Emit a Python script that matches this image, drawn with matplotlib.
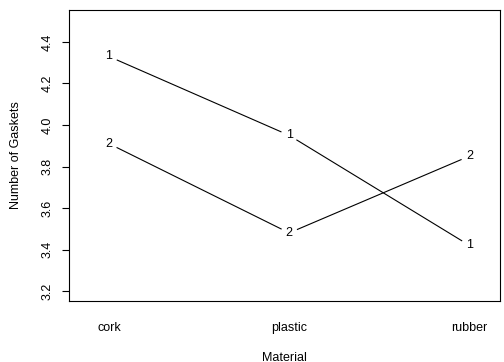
"""
Interaction plot: gaskets by material for two levels
"""

import matplotlib
matplotlib.use('Agg')
import matplotlib.pyplot as plt
import numpy as np

materials = ['cork', 'plastic', 'rubber']
level_labels = ['1', '2']
level1 = [4.33, 3.95, 3.42]
level2 = [3.91, 3.48, 3.85]

plt.rcParams['font.family'] = ['Liberation Sans', 'DejaVu Sans']

fig = plt.figure(figsize=(5.04, 3.62), dpi=100)
ax = fig.add_axes([69 / 504, 61 / 362, 431 / 504, 291 / 362])

x = np.arange(1, len(materials) + 1)
ax.set_xlim(0.778, 3.17)
ax.set_ylim(3.152, 4.554)

fig.canvas.draw()
gap = 9  # pixels left blank around each label, like type="b"

for lab, vals in zip(level_labels, [level1, level2]):
    pts = ax.transData.transform(np.column_stack([x, vals]))
    for p0, p1 in zip(pts[:-1], pts[1:]):
        d = p1 - p0
        u = d / np.hypot(*d)
        a = ax.transData.inverted().transform([p0 + u * gap, p1 - u * gap])
        ax.plot(a[:, 0], a[:, 1], color='black', linewidth=0.8)
    for xi, yi in zip(x, vals):
        ax.text(xi, yi, lab, ha='center', va='center', fontsize=9)

ax.set_xticks(x)
ax.set_xticklabels(materials, fontsize=9)
ax.tick_params(axis='x', length=0, pad=15)
ax.set_yticks([3.2, 3.4, 3.6, 3.8, 4.0, 4.2, 4.4])
ax.set_yticklabels(['3.2', '3.4', '3.6', '3.8', '4.0', '4.2', '4.4'],
                   rotation=90, va='center', fontsize=9)
ax.tick_params(axis='y', length=5, width=0.8, pad=6)
ax.set_xlabel('Material', fontsize=9, labelpad=13)
ax.set_ylabel('Number of Gaskets', fontsize=9, labelpad=14)
for s in ax.spines.values():
    s.set_linewidth(0.8)

plt.savefig('out.png', dpi=100)
